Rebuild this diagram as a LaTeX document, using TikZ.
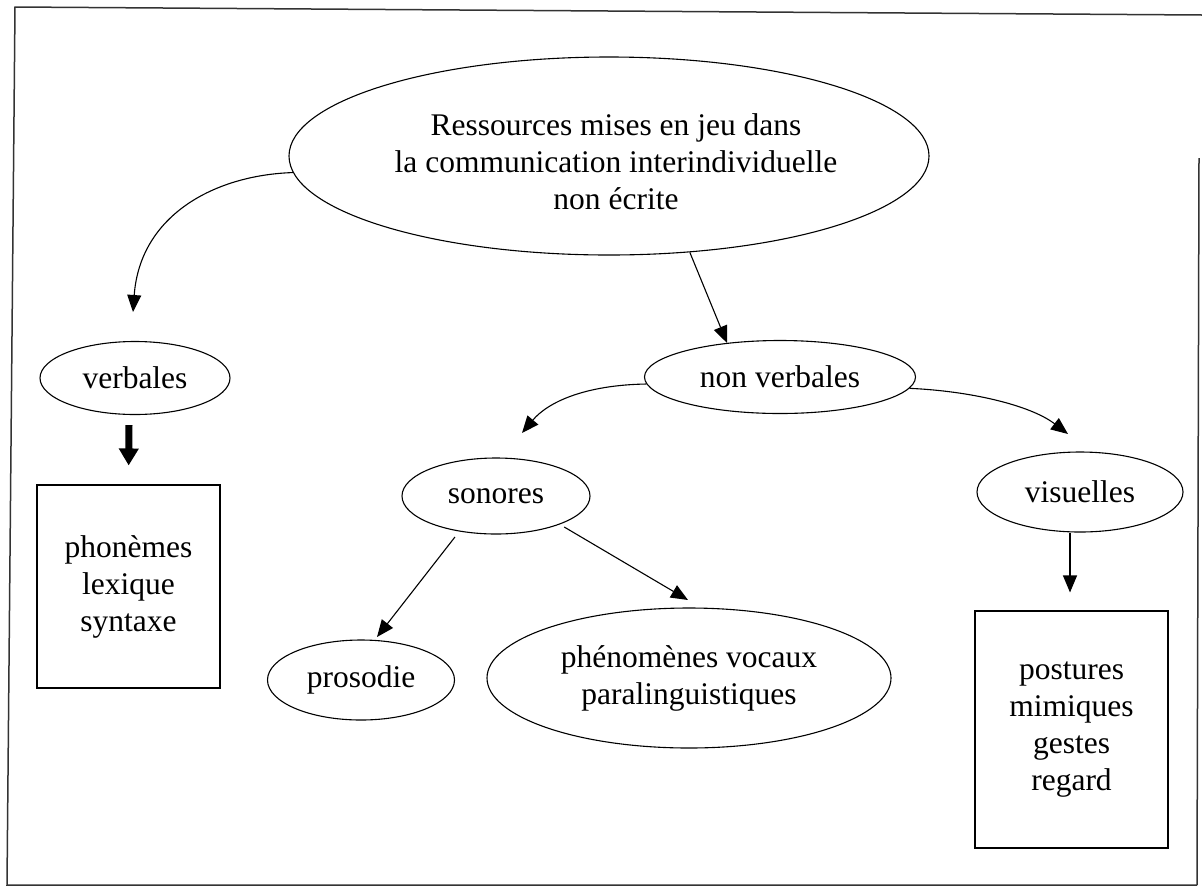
\documentclass[tikz,border=0pt]{standalone}
\usepackage{fontspec}
\setmainfont{Liberation Serif}
\usetikzlibrary{shapes.geometric,arrows.meta}
\begin{document}
\begin{tikzpicture}[x=1pt,y=-1pt,
  txt/.style={font=\fontsize{31.5}{37}\selectfont, align=center},
  oval/.style={ellipse, draw, line width=1.1pt, inner sep=0pt, txt},
  boxn/.style={rectangle, draw, line width=1.1pt, inner sep=0pt, txt},
  arr/.style={line width=1.1pt, -{Triangle[length=17pt,width=14pt]}},
  bigarr/.style={line width=7pt, -{Triangle[length=17pt,width=19pt]}},
  framel/.style={line width=1.5pt, draw=black!80}]
\useasboundingbox (0,0) rectangle (1202,887);
% frame
\draw[framel] (1202,15) -- (15,7) -- (7,885) -- (1197,885);
\draw[framel] (1199,158) -- (1197,885);
% nodes
\node[oval, minimum width=640pt, minimum height=198pt] (top) at (609,156) {};
\node[txt] (toptext) at (616,162) {Ressources mises en jeu dans\\la communication interindividuelle\\non écrite};
\node[oval, minimum width=190pt, minimum height=73pt] (verb) at (135,378) {verbales};
\node[oval, minimum width=271pt, minimum height=73pt] (nonverb) at (780,377) {non verbales};
\node[oval, minimum width=188pt, minimum height=76pt] (son) at (496,496) {sonores};
\node[oval, minimum width=206pt, minimum height=80pt] (vis) at (1080,492) {visuelles};
\node[oval, minimum width=187pt, minimum height=80pt] (pros) at (361,680) {prosodie};
\node[oval, minimum width=404pt, minimum height=140pt] (phen) at (689,678) {phénomènes vocaux\\paralinguistiques};
\node[boxn, minimum width=183pt, minimum height=203pt] (lbox) at (128.5,586.5) {phonèmes\\lexique\\syntaxe};
\node[boxn, minimum width=193pt, minimum height=237pt] (rbox) at (1071.5,729.5) {postures\\mimiques\\gestes\\regard};
% arrow tips
\coordinate (t1) at (133,312);
\coordinate (t2) at (727,343);
\coordinate (t3) at (522,433);
\coordinate (t4) at (1068,434);
\coordinate (t5) at (377,637);
\coordinate (t6) at (688,600);
% connectors
\draw[arr] (top.183) .. controls (215,175) and (140,215) .. (t1);
\draw[arr] (top.-50) -- (t2);
\draw[bigarr, shorten >=19pt] ([xshift=-6pt,yshift=-10pt]verb.south) -- (lbox.north);
\draw[arr] (nonverb.183) .. controls (585,385) and (548,402) .. (t3);
\draw[arr] (nonverb.-5) .. controls (970,391) and (1030,405) .. (t4);
\draw[arr, shorten <=7pt] (son.-136) -- (t5);
\draw[arr, shorten <=5pt] (son.-24) -- (t6);
\draw[arr, shorten >=18pt] ([xshift=-10pt]vis.south) -- ([xshift=-1.5pt]rbox.north);
\end{tikzpicture}
\end{document}
